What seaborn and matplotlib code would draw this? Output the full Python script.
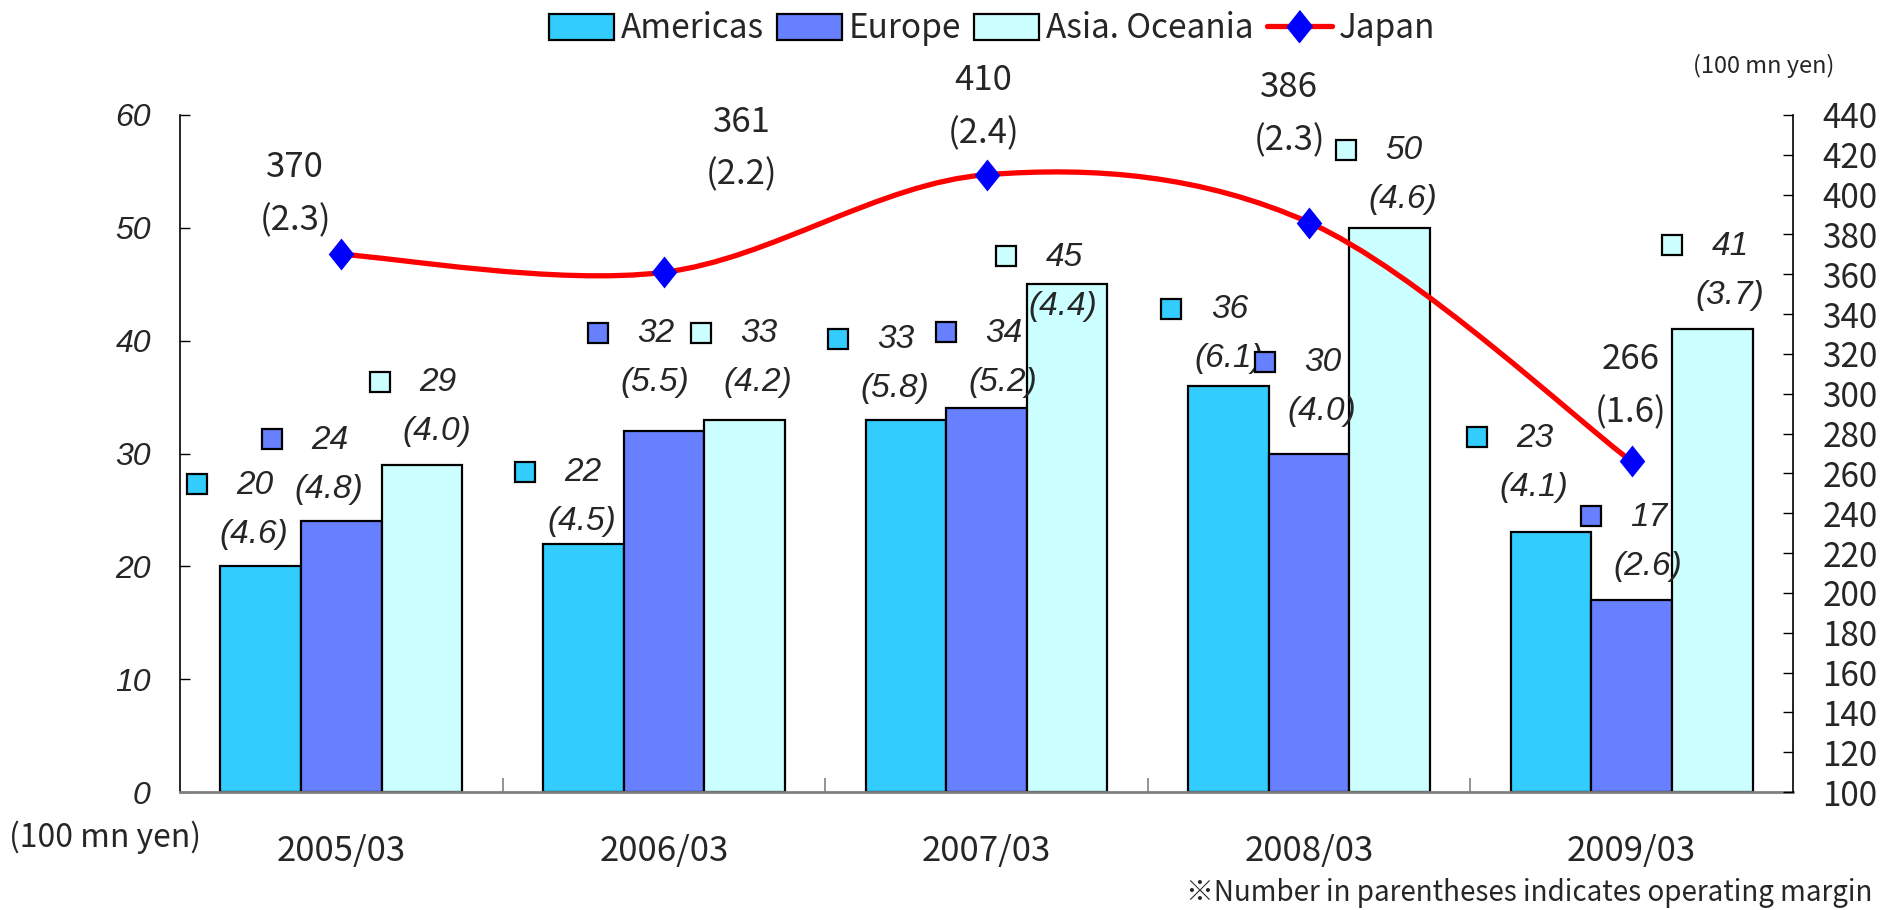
import numpy as np
import pandas as pd
import seaborn as sns
import matplotlib
matplotlib.use("Agg")
import matplotlib.pyplot as plt
from matplotlib.path import Path
from matplotlib.patches import PathPatch, Patch
from matplotlib.lines import Line2D
from matplotlib.transforms import offset_copy

# ---- data -------------------------------------------------------------
years = ["2005/03", "2006/03", "2007/03", "2008/03", "2009/03"]
regions = ["Americas", "Europe", "Asia. Oceania"]
americas = [20, 22, 33, 36, 23]
europe = [24, 32, 34, 30, 17]
asia_oceania = [29, 33, 45, 50, 41]
americas_margin = [4.6, 4.5, 5.8, 6.1, 4.1]
europe_margin = [4.8, 5.5, 5.2, 4.0, 2.6]
asia_oceania_margin = [4.0, 4.2, 4.4, 4.6, 3.7]
japan = [370, 361, 410, 386, 266]
japan_margin = [2.3, 2.2, 2.4, 2.3, 1.6]

# ---- styling ----------------------------------------------------------
bar_colors = ["#33CCFF", "#6680FF", "#CCFFFF"]
line_color = "#FF0000"
marker_color = "#0000FF"
ITALIC = ["Liberation Sans", "DejaVu Sans"]

# label offsets from the top of each bar (pixels, right / up)
label_dx = {"Americas": [-6, 0, -10, 1, -16],
            "Europe": [-11, -8, 17, 14, 17],
            "Asia. Oceania": [16, 14, -3, 14, 18]}
label_dy = {"Americas": [81, 71, 80, 76, 94],
            "Europe": [81, 97, 75, 91, 83],
            "Asia. Oceania": [82, 86, 27, 77, 83]}
# label offsets from each Japan marker (pixels)
japan_dx = [-46, 78, -3, -20, -1]
japan_dy = [87, 150, 94, 135, 102]

sns.set_style("white")
plt.rcParams["font.family"] = ["Noto Sans CJK JP", "DejaVu Sans"]

W, H, DPI = 1888, 910, 100
fig = plt.figure(figsize=(W / DPI, H / DPI), dpi=DPI)
ax = fig.add_axes([180 / W, 1 - 792 / H, (1793 - 180) / W, (792 - 115) / H])

df = pd.DataFrame({
    "year": years * 3,
    "region": np.repeat(regions, len(years)),
    "sales": americas + europe + asia_oceania,
})
sns.barplot(data=df, x="year", y="sales", hue="region", order=years,
            hue_order=regions, palette=bar_colors, saturation=1,
            width=0.75, gap=0, edgecolor="black", linewidth=1.6,
            errorbar=None, legend=False, ax=ax)

ax.set_xlim(-0.5, 4.5)
ax.set_ylim(0, 60)
ax.set_xlabel("")
ax.set_ylabel("")
ax.set_yticks(range(0, 61, 10), labels=[str(v) for v in range(0, 61, 10)],
              fontstyle="italic", fontfamily=ITALIC, fontsize=23)
ax.tick_params(axis="y", direction="in", length=7, width=1, color="black",
               pad=21, left=True)
ax.set_xticks(range(len(years)), labels=years, fontsize=25)
ax.tick_params(axis="x", which="major", length=0, pad=30)
ax.set_xticks([0.5, 1.5, 2.5, 3.5], minor=True)
ax.tick_params(axis="x", which="minor", direction="in", length=10,
               width=1.2, color="#808080", bottom=True)
for side in ("top", "right"):
    ax.spines[side].set_visible(False)
ax.spines["left"].set_color("black")
ax.spines["left"].set_linewidth(1.2)
ax.spines["bottom"].set_color("#808080")
ax.spines["bottom"].set_linewidth(2)

# bar value labels, margins and colour keys
series = {"Americas": (americas, americas_margin),
          "Europe": (europe, europe_margin),
          "Asia. Oceania": (asia_oceania, asia_oceania_margin)}
for region, color, cont in zip(regions, bar_colors, ax.containers):
    vals, margins = series[region]
    for i, bar in enumerate(cont):
        bx = bar.get_x() + bar.get_width() / 2
        by = bar.get_height()
        dx, dy = label_dx[region][i], label_dy[region][i]
        ax.annotate(f"{vals[i]:g}", xy=(bx, by), xytext=(dx, dy),
                    textcoords="offset pixels", ha="center", va="center",
                    fontsize=24, fontstyle="italic", fontfamily=ITALIC)
        ax.annotate(f"({margins[i]:.1f})", xy=(bx, by), xytext=(dx - 1, dy - 49),
                    textcoords="offset pixels", ha="center", va="center",
                    fontsize=24, fontstyle="italic", fontfamily=ITALIC)
        ax.plot([bx], [by], marker="s", ms=15, mfc=color, mec="black", mew=1.6,
                transform=offset_copy(ax.transData, fig=fig, x=dx - 58, y=dy + 1,
                                      units="dots"),
                clip_on=False, zorder=5)

# ---- Japan on the secondary axis --------------------------------------
ax2 = ax.twinx()
ax2.set_ylim(100, 440)
ax2.set_yticks(range(100, 441, 20), labels=[str(v) for v in range(100, 441, 20)],
               fontsize=24)
ax2.tick_params(axis="y", direction="in", length=7, width=1, color="black", pad=21)
for side in ("top", "left", "bottom"):
    ax2.spines[side].set_visible(False)
ax2.spines["right"].set_color("black")
ax2.spines["right"].set_linewidth(1.2)
ax2.grid(False)

xs = np.arange(len(japan), dtype=float)
ys = np.asarray(japan, dtype=float)
pts = np.column_stack([xs, ys])
ext = np.vstack([pts[:1], pts, pts[-1:]])
verts = [tuple(pts[0])]
codes = [Path.MOVETO]
for k in range(len(pts) - 1):
    p0, p1, p2, p3 = ext[k], ext[k + 1], ext[k + 2], ext[k + 3]
    c1 = p1 + (p2 - p0) / 6
    c2 = p2 - (p3 - p1) / 6
    verts += [tuple(c1), tuple(c2), tuple(p2)]
    codes += [Path.CURVE4] * 3
ax2.add_patch(PathPatch(Path(verts, codes), fill=False, edgecolor=line_color,
                        linewidth=3.8, capstyle="round", zorder=3))

diamond = [(0, 1), (0.8, 0), (0, -1), (-0.8, 0)]
sns.scatterplot(x=xs, y=ys, marker=diamond, s=23 ** 2, color=marker_color,
                edgecolor=marker_color, linewidth=0, zorder=4, ax=ax2,
                legend=False)

for i, (v, m) in enumerate(zip(japan, japan_margin)):
    ax2.annotate(f"{v}", xy=(xs[i], v), xytext=(japan_dx[i], japan_dy[i]),
                 textcoords="offset pixels", ha="center", va="center", fontsize=25)
    ax2.annotate(f"({m:.1f})", xy=(xs[i], v),
                 xytext=(japan_dx[i], japan_dy[i] - 53),
                 textcoords="offset pixels", ha="center", va="center", fontsize=25)

# ---- legend and notes -------------------------------------------------
handles = [Patch(facecolor=c, edgecolor="black", linewidth=1.6) for c in bar_colors]
handles.append(Line2D([], [], color=line_color, lw=3.8, marker=diamond, ms=23,
                      mfc=marker_color, mec=marker_color))
fig.legend(handles, regions + ["Japan"], loc="center",
           bbox_to_anchor=(992 / W, 1 - 29 / H), ncol=4, frameon=False,
           fontsize=24, handlelength=1.95, handleheight=0.8,
           handletextpad=0.2, columnspacing=0.4, borderaxespad=0)

fig.text(1764 / W, 1 - 66 / H, "(100 mn yen)", ha="center", va="center", fontsize=17)
fig.text(105 / W, 1 - 837 / H, "(100 mn yen)", ha="center", va="center", fontsize=23)
fig.text(1872 / W, 1 - 893 / H, "※Number in parentheses indicates operating margin",
         ha="right", va="center", fontsize=20)

fig.savefig("out.png", dpi=DPI)
